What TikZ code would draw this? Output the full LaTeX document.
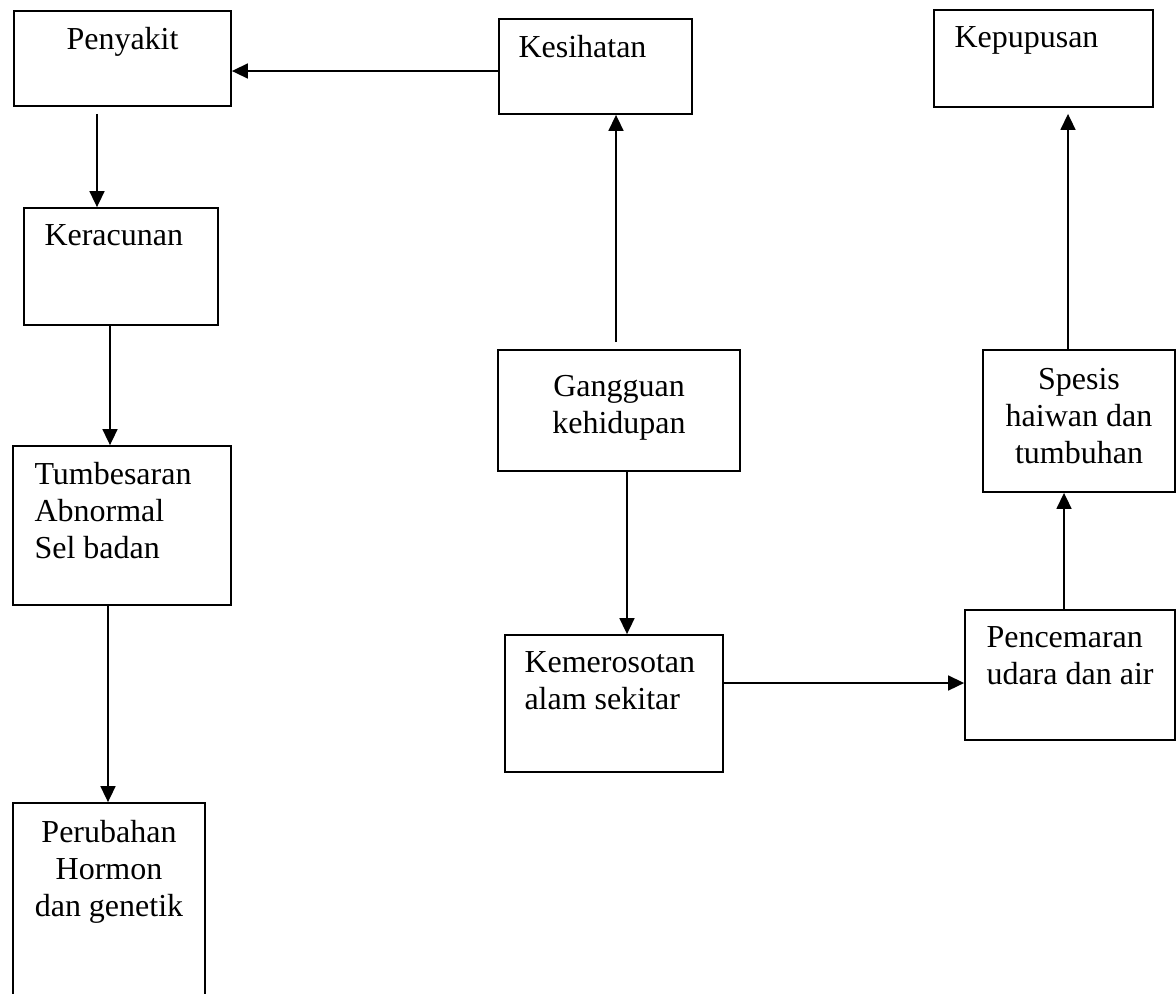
\documentclass[tikz,border=0pt]{standalone}
\usepackage{fontspec}
\setmainfont{Liberation Serif}
\usetikzlibrary{positioning,arrows.meta}
\tikzset{box/.style={draw,rectangle,line width=0.9pt,inner sep=0pt}}
\tikzset{lbl/.style={inner sep=0pt,font=\fontsize{16}{18.5}\selectfont}}
\tikzset{arr/.style={-{Triangle[length=8pt,width=7.5pt]},line width=0.8pt}}

\begin{document}
\begin{tikzpicture}[x=0.5pt,y=-0.5pt]
  \useasboundingbox (0,0) rectangle (1176,993);
  \clip (0,0) rectangle (1176,993);

  % boxes
  \node[box,minimum width=108.5pt,minimum height=47.5pt] (pen) at (122.5,58.5) {};
  \node[box,minimum width=96.5pt,minimum height=47.5pt] (kes) at (595.5,66.5) {};
  \node[box,minimum width=109.5pt,minimum height=48.5pt] (kep) at (1043.5,58.5) {};
  \node[box,minimum width=97pt,minimum height=58.5pt] (rac) at (121,266.5) {};
  \node[box,minimum width=121pt,minimum height=60.5pt] (gan) at (619,410.5) {};
  \node[box,minimum width=96pt,minimum height=71pt] (spe) at (1079,421) {};
  \node[box,minimum width=109pt,minimum height=79.5pt] (tum) at (122,525.5) {};
  \node[box,minimum width=109pt,minimum height=68.5pt] (kem) at (614,703.5) {};
  \node[box,minimum width=105pt,minimum height=65pt] (pnc) at (1070,675) {};
  \node[box,minimum width=96pt,minimum height=103.5pt] (per) at (109,906.5) {};

  % texts
  \node[lbl,below=8.5pt of pen.north] (pen-t) {Penyakit};
  \node[lbl,below right=8.5pt and 10pt of kes.north west] (kes-t) {Kesihatan};
  \node[lbl,below right=8.5pt and 10.5pt of kep.north west] (kep-t) {Kepupusan};
  \node[lbl,below right=8.5pt and 10.5pt of rac.north west] (rac-t) {Keracunan};
  \node[lbl,align=center,below=13pt of gan.north] (gan-t) {Gangguan\\kehidupan};
  \node[lbl,align=center,below=9.5pt of spe.north] (spe-t) {Spesis\\haiwan dan\\tumbuhan};
  \node[lbl,align=left,below right=8.5pt and 11pt of tum.north west] (tum-t) {Tumbesaran\\Abnormal\\Sel badan};
  \node[lbl,align=left,below right=8.5pt and 10pt of kem.north west] (kem-t) {Kemerosotan\\alam sekitar};
  \node[lbl,align=left,below right=8.5pt and 11pt of pnc.north west] (pnc-t) {Pencemaran\\udara dan air};
  \node[lbl,align=center,below=9pt of per.north] (per-t) {Perubahan\\Hormon\\dan genetik};

  % arrows
  \draw[arr] ([shift={(0,4.5)}]kes.west) coordinate (k1) -- (pen.east |- k1);
  \draw[arr] ([shift={(-25.5,7)}]pen.south) coordinate (p1) -- (p1 |- rac.north);
  \draw[arr] ([shift={(-11,0)}]rac.south) coordinate (r1) -- (r1 |- tum.north);
  \draw[arr] ([shift={(-14,0)}]tum.south) coordinate (t1) -- (t1 |- per.north);
  \draw[arr] ([shift={(-3,-7)}]gan.north) coordinate (g1) -- (g1 |- kes.south);
  \draw[arr] ([shift={(8,0)}]gan.south) coordinate (g2) -- (g2 |- kem.north);
  \draw[arr] ([shift={(0,-20.5)}]kem.east) coordinate (m1) -- (m1 -| pnc.west);
  \draw[arr] ([shift={(-6,0)}]pnc.north) coordinate (c1) -- (c1 |- spe.south);
  \draw[arr,shorten >=3pt] ([shift={(-11,0)}]spe.north) coordinate (s1) -- (s1 |- kep.south);
\end{tikzpicture}
\end{document}
